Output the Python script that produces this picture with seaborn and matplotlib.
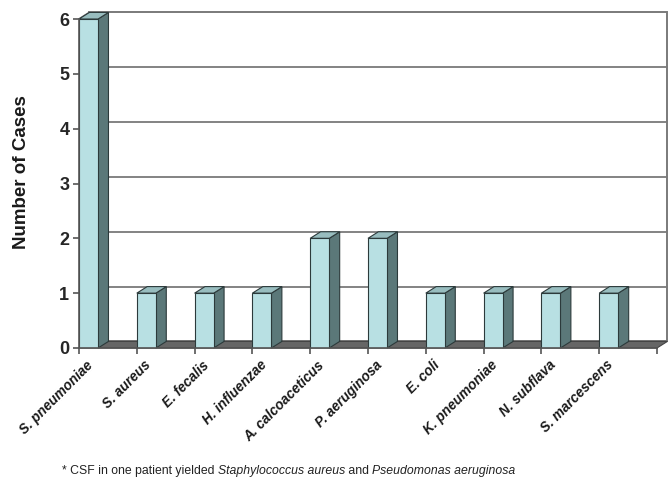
import numpy as np
import pandas as pd
import seaborn as sns
import matplotlib
matplotlib.use("Agg")
import matplotlib.pyplot as plt
from matplotlib.patches import Polygon
from matplotlib import transforms

# Isolated organisms and number of cases
organisms = ["S. pneumoniae", "S. aureus", "E. fecalis", "H. influenzae",
             "A. calcoaceticus", "P. aeruginosa", "E. coli", "K. pneumoniae",
             "N. subflava", "S. marcescens"]
cases = [6, 1, 1, 1, 2, 2, 1, 1, 1, 1]
y_ticks = [0, 1, 2, 3, 4, 5, 6]
y_label = "Number of Cases"
footnote_parts = [("* CSF in one patient yielded ", "normal"),
                  ("Staphylococcus aureus", "italic"),
                  (" and ", "normal"),
                  ("Pseudomonas aeruginosa", "italic")]

sns.set_theme(style="white")
plt.rcParams["font.family"] = ["Liberation Sans", "DejaVu Sans"]

FRONT = "#b8e0e3"
SIDE = "#5b7879"
TOP = "#98bdbf"
EDGE = "#2c3a3b"
FLOOR = "#666666"
GRID = "#7a7a7a"

fig = plt.figure(figsize=(6.72, 4.83), dpi=100)
ax = fig.add_axes([79 / 672, 135 / 483, 578 / 672, 329 / 483])

df = pd.DataFrame({"organism": organisms, "cases": cases})
bar_w = 0.33
sns.barplot(data=df, x="organism", y="cases", color=FRONT, saturation=1,
            width=bar_w, edgecolor=EDGE, linewidth=0.8, ax=ax, zorder=4)

n = len(organisms)
x0, x1 = -bar_w / 2, n - bar_w / 2
ymax = max(y_ticks)
dx, dy = 0.18, 0.12          # depth offset of the 3-D projection
ax.set_xlim(x0, x1)
ax.set_ylim(0, ymax)

# back wall with horizontal gridlines
wall = Polygon([(x0 + dx, dy), (x1 + dx, dy), (x1 + dx, ymax + dy), (x0 + dx, ymax + dy)],
               closed=True, facecolor="white", edgecolor=GRID, linewidth=1.4,
               clip_on=False, zorder=1)
ax.add_patch(wall)
for k in y_ticks[1:-1]:
    ax.plot([x0 + dx, x1 + dx], [k + dy, k + dy], color=GRID, lw=1.3,
            clip_on=False, zorder=1.5)
    ax.plot([x0, x0 + dx], [k, k + dy], color=GRID, lw=1.3, clip_on=False, zorder=1.5)
ax.plot([x0, x0 + dx], [ymax, ymax + dy], color=GRID, lw=1.3, clip_on=False, zorder=1.5)

# floor
floor = Polygon([(x0, 0), (x1, 0), (x1 + dx, dy), (x0 + dx, dy)], closed=True,
                facecolor=FLOOR, edgecolor="#444444", linewidth=0.8,
                clip_on=False, zorder=2)
ax.add_patch(floor)

# side and top faces of each column
for p in ax.patches[:]:
    if p is wall or p is floor:
        continue
    bx, bw, bh = p.get_x(), p.get_width(), p.get_height()
    side = Polygon([(bx + bw, 0), (bx + bw + dx, dy), (bx + bw + dx, bh + dy), (bx + bw, bh)],
                   closed=True, facecolor=SIDE, edgecolor=EDGE, linewidth=0.8,
                   clip_on=False, zorder=3)
    top = Polygon([(bx, bh), (bx + bw, bh), (bx + bw + dx, bh + dy), (bx + dx, bh + dy)],
                  closed=True, facecolor=TOP, edgecolor=EDGE, linewidth=0.8,
                  clip_on=False, zorder=3)
    ax.add_patch(side)
    ax.add_patch(top)

# axes styling
for s in ["top", "right"]:
    ax.spines[s].set_visible(False)
for s in ["left", "bottom"]:
    ax.spines[s].set_color("#555555")
    ax.spines[s].set_linewidth(1.2)
    ax.spines[s].set_zorder(5)
ax.set_yticks(y_ticks)
ax.set_yticklabels([str(t) for t in y_ticks], fontsize=13, fontweight="bold")
ax.set_xticks(np.arange(n + 1) - bar_w / 2)
ax.set_xticklabels([])
ax.tick_params(axis="both", which="both", direction="out", length=4, width=1.2,
               color="#555555", left=True, bottom=True, pad=3)
ax.set_xlabel("")
ax.set_ylabel("")
ax.patch.set_alpha(0)

# rotated category labels
lbl_tf = transforms.offset_copy(ax.transData, fig=fig, x=0, y=-10, units="dots")
for i, name in enumerate(organisms):
    ax.text(i - 0.045, 0, name, transform=lbl_tf, rotation=45, rotation_mode="anchor",
            ha="right", va="top", fontsize=9.8, fontweight="bold", fontstyle="italic",
            color="#1a1a1a")

fig.text(22 / 672, 1 - 172 / 483, y_label, rotation=90, ha="center", va="center",
         fontsize=13.5, fontweight="bold", color="#1a1a1a")

# footnote with italic species names
fig.canvas.draw()
renderer = fig.canvas.get_renderer()
xpix = 62
for txt, style in footnote_parts:
    t = fig.text(xpix / 672, 1 - 471 / 483, txt, ha="left", va="center",
                 fontsize=8.8, fontstyle=style, color="#222222")
    xpix += t.get_window_extent(renderer).width

fig.savefig("out.png", dpi=100, facecolor="white")
